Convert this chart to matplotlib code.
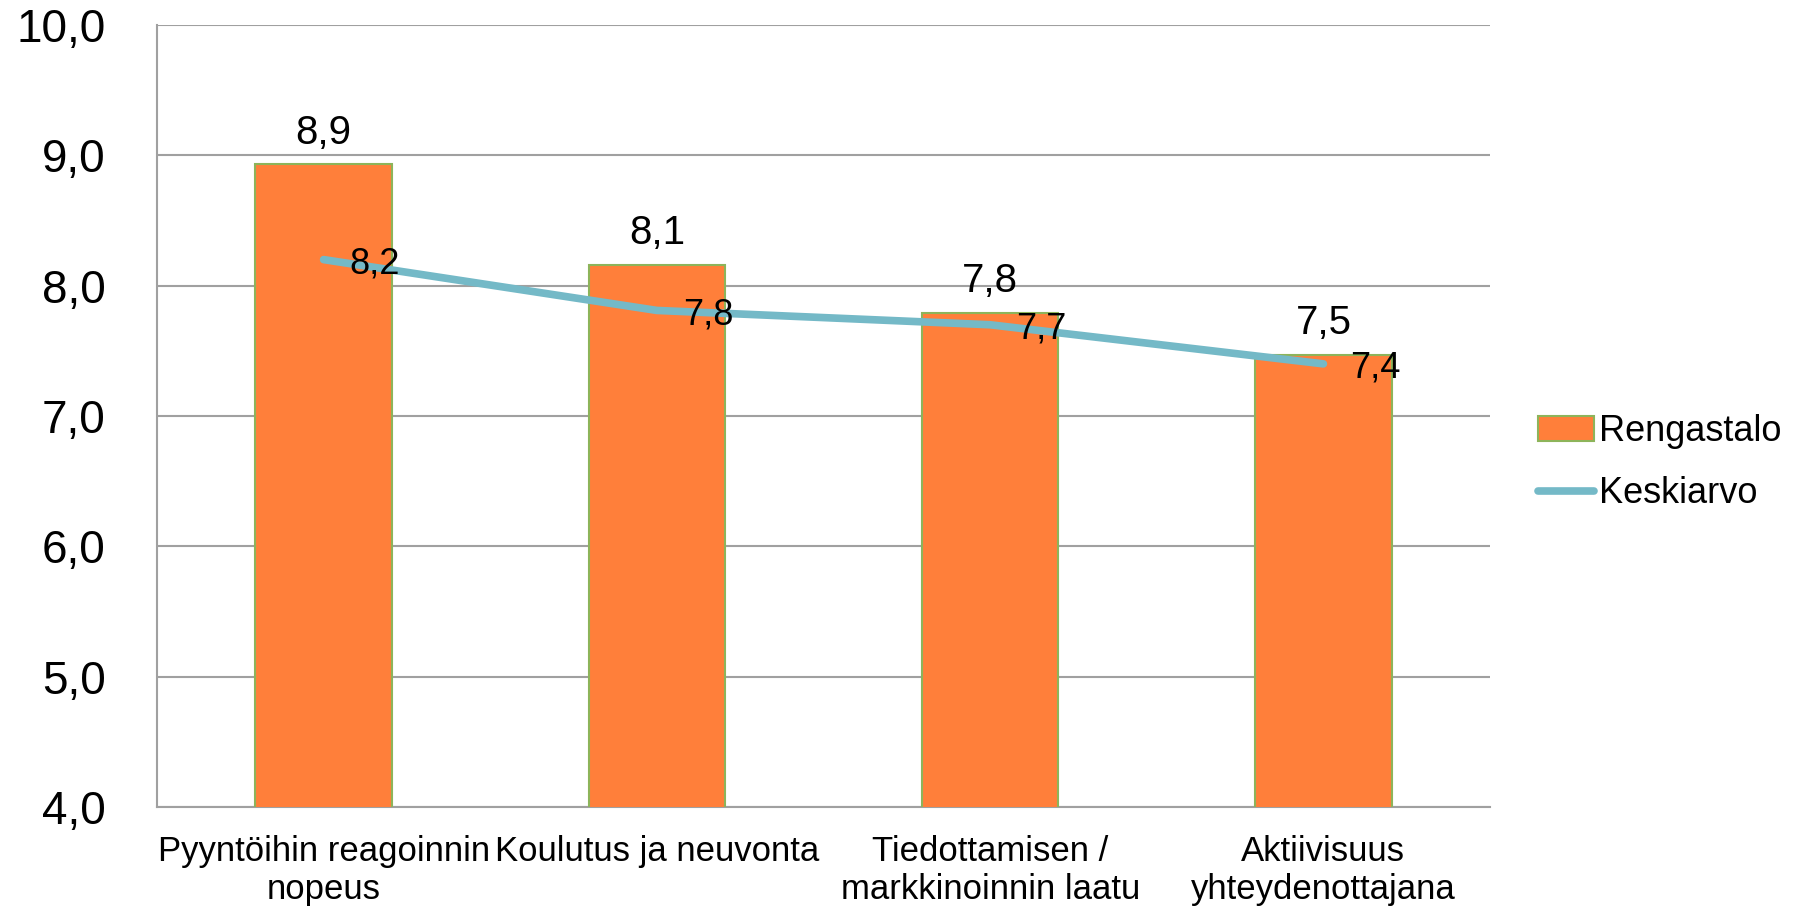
import numpy as np
import matplotlib.pyplot as plt

plt.rcParams['font.family'] = ['Liberation Sans', 'DejaVu Sans']

categories = ['Pyyntöihin reagoinnin\nnopeus', 'Koulutus ja neuvonta',
              'Tiedottamisen /\nmarkkinoinnin laatu', 'Aktiivisuus\nyhteydenottajana']
rengastalo = [8.93, 8.16, 7.79, 7.47]
rengastalo_labels = ['8,9', '8,1', '7,8', '7,5']
keskiarvo = [8.20, 7.81, 7.70, 7.40]
keskiarvo_labels = ['8,2', '7,8', '7,7', '7,4']
yticks = [4, 5, 6, 7, 8, 9, 10]
ytick_labels = ['4,0', '5,0', '6,0', '7,0', '8,0', '9,0', '10,0']

fig = plt.figure(figsize=(18.02, 9.09), dpi=100)
ax = fig.add_axes([0.0871, 0.1122, 0.7398, 0.8603])

x = np.arange(len(categories))
ax.bar(x, rengastalo, width=0.41, bottom=0, color='#FF7F3A',
       edgecolor='#8DB45A', linewidth=1.5, label='Rengastalo', zorder=3)
ax.plot(x, keskiarvo, color='#74B9C7', linewidth=5.5, solid_capstyle='round',
        label='Keskiarvo', zorder=4)

for xi, v, t in zip(x, rengastalo, rengastalo_labels):
    ax.annotate(t, (xi, v), xytext=(0, 15), textcoords='offset points',
                ha='center', va='baseline', fontsize=29, zorder=5)
for xi, v, t in zip(x, keskiarvo, keskiarvo_labels):
    ax.annotate(t, (xi, v), xytext=(37, -10), textcoords='offset points',
                ha='center', va='baseline', fontsize=26, zorder=5)

ax.set_xlim(-0.5, len(categories) - 0.5)
ax.set_ylim(4, 10)
ax.set_yticks(yticks)
ax.set_yticklabels(ytick_labels, fontsize=33)
ax.set_xticks(x)
ax.set_xticklabels(categories, fontsize=25, linespacing=1.2)
ax.tick_params(axis='y', length=0, pad=37)
ax.tick_params(axis='x', length=0, pad=20)
ax.grid(axis='y', color='#A0A0A0', linewidth=1.5, zorder=0)
for s in ['top', 'right']:
    ax.spines[s].set_visible(False)
ax.spines['left'].set_color('#A0A0A0')
ax.spines['bottom'].set_color('#A0A0A0')
ax.spines['left'].set_linewidth(1.5)
ax.spines['bottom'].set_linewidth(1.5)

handles, labels = ax.get_legend_handles_labels()
order = [labels.index('Rengastalo'), labels.index('Keskiarvo')]
fig.legend([handles[i] for i in order], [labels[i] for i in order],
           loc='center left', bbox_to_anchor=(0.8535, 0.491), frameon=False,
           fontsize=26, handlelength=1.55, handletextpad=0.14, labelspacing=0.75,
           borderpad=0, borderaxespad=0)

fig.savefig('out.png', dpi=100)
